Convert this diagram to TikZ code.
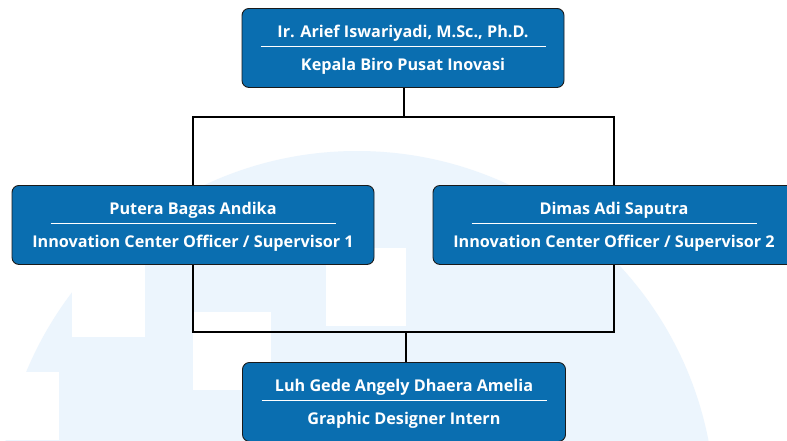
\documentclass[tikz,border=0pt]{standalone}
\usepackage{fontspec}
\setmainfont{Open Sans}
\definecolor{boxblue}{HTML}{0A6EB0}
\definecolor{wmblue}{HTML}{ECF5FD}
\definecolor{edgegray}{HTML}{1A1A1A}
\tikzset{
  orgbox/.style={draw=edgegray, line width=0.9pt, fill=boxblue, rounded corners=7pt, inner sep=0pt},
  orgtext/.style={text=white, font=\fontsize{16.2}{19}\selectfont\bfseries, inner sep=0pt, anchor=base},
  sepline/.style={draw=white, line width=1.4pt},
  conn/.style={draw=black, line width=1.6pt},
}
\newcommand{\orgentry}[6]{%
  % #1 name, #2 x, #3 top y, #4 width, #5 line1, #6 line2
  \node[orgbox, minimum width=#4pt, minimum height=79pt, anchor=north] (#1) at (#2,#3) {};
  \node[orgtext] (#1-a) at ([yshift=-29pt]#1.north) {#5};
  \node[orgtext] (#1-b) at ([yshift=-62pt]#1.north) {#6};
  \draw[sepline] ([xshift=-142.5pt,yshift=-38.5pt]#1.north) -- ([xshift=142.5pt,yshift=-38.5pt]#1.north);
}
\begin{document}
\begin{tikzpicture}[x=1pt,y=-1pt]
\useasboundingbox (0,0) rectangle (787,440);
\clip (0,0) rectangle (787,440);
\fill[white] (0,0) rectangle (787,440);
% watermark
\fill[wmblue] (357,509) circle[radius=358pt];
\fill[white] (72,0) rectangle (145,337);
\fill[white] (0,372) rectangle (59,440);
\fill[white] (193,312) rectangle (271,390);
\fill[white] (326,248) rectangle (406,326);
% junctions
\coordinate (j1) at (404,117);
\coordinate (j2) at (406,332);
% boxes
\orgentry{top}{403}{8}{322}{Ir. Arief Iswariyadi, M.Sc., Ph.D.}{Kepala Biro Pusat Inovasi}
\orgentry{left}{193}{185}{362}{Putera Bagas Andika}{Innovation Center Officer / Supervisor 1}
\orgentry{right}{614}{185}{362}{Dimas Adi Saputra}{Innovation Center Officer / Supervisor 2}
\orgentry{bottom}{404}{362}{323}{Luh Gede Angely Dhaera Amelia}{Graphic Designer Intern}
% connectors
\draw[conn] (top.south -| j1) -- (j1);
\draw[conn] (left.north) |- (j1) -| (right.north);
\draw[conn] (left.south) |- (j2) -| (right.south);
\draw[conn] (j2) -- (bottom.north -| j2);
\end{tikzpicture}
\end{document}
